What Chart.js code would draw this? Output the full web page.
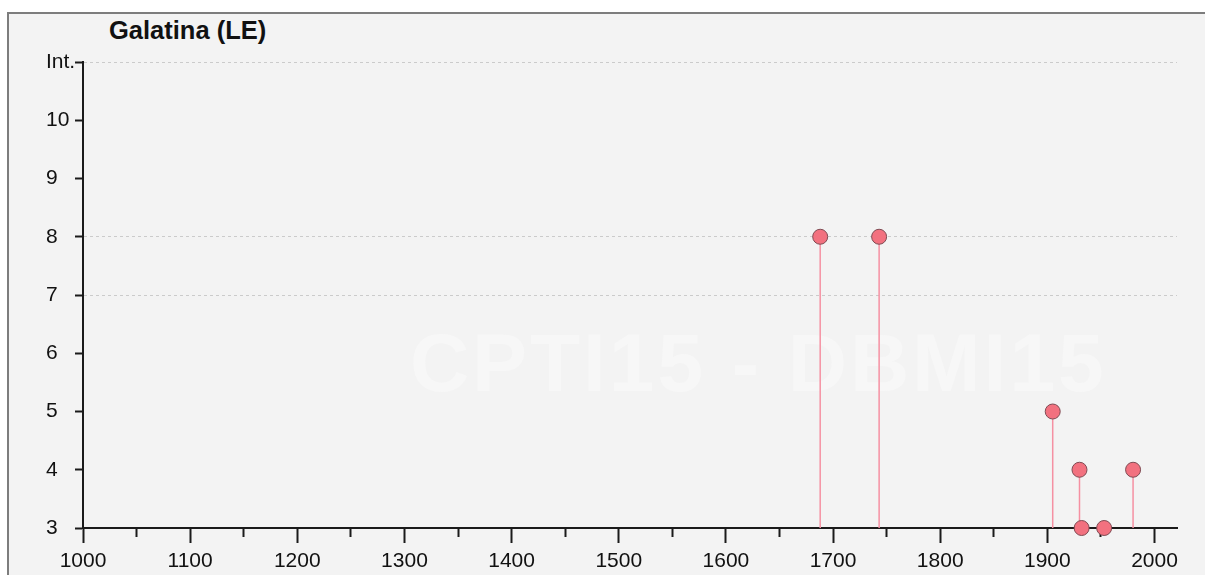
<!DOCTYPE html>
<html>
<head>
<meta charset="utf-8">
<script src="https://cdn.jsdelivr.net/npm/chart.js@4.4.1/dist/chart.umd.min.js"></script>
<style>
    html, body { margin: 0; padding: 0; background: #ffffff; }
    #marco {
        position: absolute; left: 7px; top: 12px; width: 1220px; height: 600px;
        border-top: 2px solid #7d7d7d; border-left: 2px solid #7d7d7d;
        background: #f3f3f3;
    }
    #marca {
        position: absolute; left: 410px; top: 316px;
        font: bold 82px "Liberation Sans", Arial, sans-serif;
        color: #f7f7f7; letter-spacing: 3px; white-space: nowrap;
    }
    #titulo {
        position: absolute; left: 109px; top: 16px;
        font: bold 25.5px "Liberation Sans", Arial, sans-serif; color: #111;
    }
    #contenedor { position: absolute; left: 0; top: 0; width: 1205px; height: 575px; }
</style>
</head>
<body>
<div id="marco"></div>
<div id="marca">CPTI15 - DBMI15</div>
<div id="titulo">Galatina (LE)</div>
<div id="contenedor"><canvas id="sismosChart" width="1205" height="575"></canvas></div>
<script>
// Datos: año del evento e intensidad
const anios = [1688, 1743, 1905, 1930, 1932, 1953, 1980];
const intensidades = [8, 8, 5, 4, 3, 3, 4];
const ticksAnios = [1000, 1050, 1100, 1150, 1200, 1250, 1300, 1350, 1400, 1450, 1500,
    1550, 1600, 1650, 1700, 1750, 1800, 1850, 1900, 1950, 2000];
const ticksIntensidad = [3, 4, 5, 6, 7, 8, 9, 10, 11];
const lineasGuia = [7, 8, 11];

const X_MIN = 1000, X_MAX = 2021;
const Y_MIN = 3, Y_MAX = 11;
const FUENTE = '"Liberation Sans", Arial, sans-serif';

// Tallos verticales desde el eje hasta cada punto
const tallosPlugin = {
    id: 'tallos',
    beforeDatasetsDraw(chart) {
        const { ctx, scales: { x, y } } = chart;
        ctx.save();
        ctx.strokeStyle = '#f590a2';
        ctx.lineWidth = 1.5;
        anios.forEach((anio, i) => {
            const px = x.getPixelForValue(anio);
            ctx.beginPath();
            ctx.moveTo(px, y.getPixelForValue(Y_MIN));
            ctx.lineTo(px, y.getPixelForValue(intensidades[i]));
            ctx.stroke();
        });
        ctx.restore();
    }
};

const inicializarGrafico = () => {
    const ctx = document.getElementById('sismosChart');
    new Chart(ctx, {
        type: 'scatter',
        data: {
            datasets: [{
                data: anios.map((a, i) => ({ x: a, y: intensidades[i] })),
                backgroundColor: '#f2717f',
                borderColor: '#7e4a52',
                borderWidth: 1,
                pointRadius: 7.5,
                pointHoverRadius: 7.5,
                clip: false
            }]
        },
        options: {
            responsive: false,
            animation: false,
            layout: { padding: { left: 46, top: 62, right: 28, bottom: 0 } },
            plugins: { legend: { display: false }, tooltip: { enabled: false } },
            scales: {
                x: {
                    type: 'linear',
                    min: X_MIN,
                    max: X_MAX,
                    afterFit: (s) => { s.height = 47; },
                    afterBuildTicks: (s) => { s.ticks = ticksAnios.map(v => ({ value: v })); },
                    ticks: {
                        autoSkip: false,
                        maxRotation: 0,
                        padding: 6,
                        color: '#111',
                        font: { family: FUENTE, size: 21 },
                        callback: (v) => (v % 100 === 0 ? String(v) : '')
                    },
                    grid: {
                        drawOnChartArea: false,
                        tickLength: 15,
                        tickWidth: 2,
                        tickColor: '#1a1a1a',
                        tickBorderDash: (c) => (c.tick && c.tick.value % 100 === 0 ? [] : [8, 40])
                    },
                    border: { color: '#1a1a1a', width: 2 }
                },
                y: {
                    min: Y_MIN,
                    max: Y_MAX,
                    afterFit: (s) => { s.width = 37; },
                    afterBuildTicks: (s) => { s.ticks = ticksIntensidad.map(v => ({ value: v })); },
                    ticks: {
                        crossAlign: 'far',
                        padding: 2,
                        color: '#111',
                        font: { family: FUENTE, size: 21 },
                        callback: (v) => (v === Y_MAX ? 'Int.' : String(v))
                    },
                    grid: {
                        tickLength: 8,
                        tickWidth: 2,
                        tickColor: '#1a1a1a',
                        lineWidth: 1,
                        color: (c) => (c.tick && lineasGuia.includes(c.tick.value) ? '#cbcbcb' : 'rgba(0,0,0,0)')
                    },
                    border: { color: '#1a1a1a', width: 2, dash: [3, 3] }
                }
            }
        },
        plugins: [tallosPlugin]
    });
};

if (document.readyState === 'loading') {
    document.addEventListener('DOMContentLoaded', inicializarGrafico);
} else {
    inicializarGrafico();
}
</script>
</body>
</html>
